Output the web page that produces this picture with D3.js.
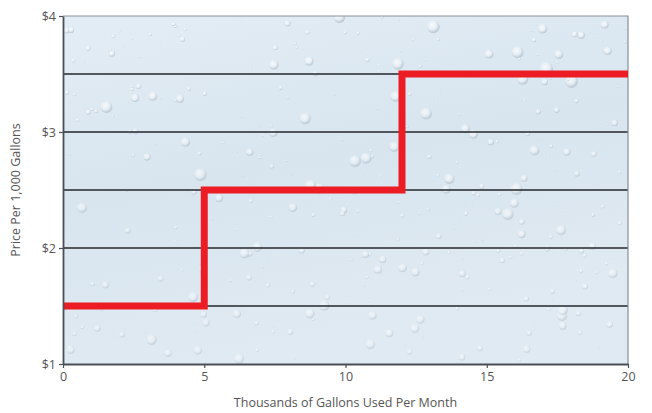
<!DOCTYPE html>
<html><head><meta charset="utf-8">
<script src="https://cdn.jsdelivr.net/npm/d3@7"></script>
<style>body{margin:0;background:#fff;} svg{display:block;font-family:"Open Sans",sans-serif;}</style>
</head><body>
<svg id="c" width="652" height="413"></svg>
<script>
// Data
const tierStarts = [0, 5, 12];      // thousands of gallons
const tierEnds   = [5, 12, 20];
const tierPrices = [1.5, 2.5, 3.5]; // $ per 1,000 gallons
const xTicks = [0, 5, 10, 15, 20];
const yTicks = [1, 2, 3, 4];
const yTickLabels = ["$1", "$2", "$3", "$4"];
const gridValues = [1.5, 2, 2.5, 3, 3.5];

const svg = d3.select("#c");
const m = {l: 63, r: 24, t: 16, b: 49};
const W = 652, H = 413;
const x = d3.scaleLinear().domain([0, 20]).range([m.l, W - m.r]);
const y = d3.scaleLinear().domain([1, 4]).range([H - m.b, m.t]);

const defs = svg.append("defs");
const bg = defs.append("linearGradient").attr("id", "bg").attr("x1", 0).attr("y1", 0).attr("x2", 0.3).attr("y2", 1);
bg.append("stop").attr("offset", "0%").attr("stop-color", "#e3edf5");
bg.append("stop").attr("offset", "50%").attr("stop-color", "#d8e5ef");
bg.append("stop").attr("offset", "100%").attr("stop-color", "#e0eaf2");
const dg = defs.append("radialGradient").attr("id", "drop").attr("cx", 0.4).attr("cy", 0.35).attr("r", 0.6);
dg.append("stop").attr("offset", "0%").attr("stop-color", "#ffffff").attr("stop-opacity", 0.95);
dg.append("stop").attr("offset", "60%").attr("stop-color", "#eef3f7").attr("stop-opacity", 0.7);
dg.append("stop").attr("offset", "100%").attr("stop-color", "#9fb0bf").attr("stop-opacity", 0.6);
defs.append("clipPath").attr("id", "clip").append("rect")
  .attr("x", x(0)).attr("y", y(4)).attr("width", x(20) - x(0)).attr("height", y(1) - y(4));

svg.append("rect").attr("x", x(0)).attr("y", y(4)).attr("width", x(20) - x(0)).attr("height", y(1) - y(4)).attr("fill", "url(#bg)");

// decorative droplet texture (deterministic)
const dropsG = svg.append("g").attr("clip-path", "url(#clip)");
let s = 7;
function rnd() { s = (s * 16807) % 2147483647; return s / 2147483647; }
const drops = [];
for (let i = 0; i < 420; i++) {
  const px = x(0) + rnd() * (x(20) - x(0));
  const py = y(4) + rnd() * (y(1) - y(4));
  const fade = 1 - (py - y(4)) / (y(1) - y(4)) * 0.6;
  const rr = (0.8 + Math.pow(rnd(), 3) * 6) * (0.5 + fade * 0.6);
  drops.push([px, py, rr, 0.35 + fade * 0.5]);
}
dropsG.selectAll("circle").data(drops).join("circle")
  .attr("cx", d => d[0]).attr("cy", d => d[1]).attr("r", d => d[2])
  .attr("fill", "url(#drop)").attr("opacity", d => d[3]);

// gridlines
svg.append("g").selectAll("line").data(gridValues).join("line")
  .attr("x1", x(0)).attr("x2", x(20)).attr("y1", d => y(d)).attr("y2", d => y(d))
  .attr("stroke", "#23272c").attr("stroke-width", 1.3);

// frame top/right
svg.append("path").attr("d", `M${x(0)},${y(4)}H${x(20)}V${y(1)}`).attr("fill", "none").attr("stroke", "#8a8f95").attr("stroke-width", 1.2);

// step line
const pts = [];
tierPrices.forEach((p, i) => { pts.push([tierStarts[i], p]); pts.push([tierEnds[i], p]); });
svg.append("path").datum(pts)
  .attr("d", d3.line().x(d => x(d[0])).y(d => y(d[1])))
  .attr("fill", "none").attr("stroke", "#ec1c24").attr("stroke-width", 7).attr("stroke-linejoin", "miter");

// axes
const xa = svg.append("g").attr("transform", `translate(0,${y(1)})`)
  .call(d3.axisBottom(x).tickValues(xTicks).tickSize(4).tickSizeOuter(0).tickPadding(4));
const ya = svg.append("g").attr("transform", `translate(${x(0)},0)`)
  .call(d3.axisLeft(y).tickValues(yTicks).tickFormat((d, i) => yTickLabels[i]).tickSize(4).tickSizeOuter(0).tickPadding(3));
[xa, ya].forEach(a => {
  a.select(".domain").attr("stroke", "#4a4f55").attr("stroke-width", 1.8);
  a.selectAll(".tick line").attr("stroke", "#4a4f55").attr("stroke-width", 1.2);
  a.selectAll("text").attr("fill", "#555").style("font-size", "12.5px").style("font-family", "'Open Sans',sans-serif");
});

svg.append("text").attr("x", (x(0) + x(20)) / 2).attr("y", 407).attr("text-anchor", "middle")
  .attr("fill", "#555").style("font-size", "12.5px").text("Thousands of Gallons Used Per Month");
svg.append("text").attr("transform", `translate(20,${(y(1) + y(4)) / 2}) rotate(-90)`).attr("text-anchor", "middle")
  .attr("fill", "#555").style("font-size", "12.5px").text("Price Per 1,000 Gallons");
</script>
</body></html>
